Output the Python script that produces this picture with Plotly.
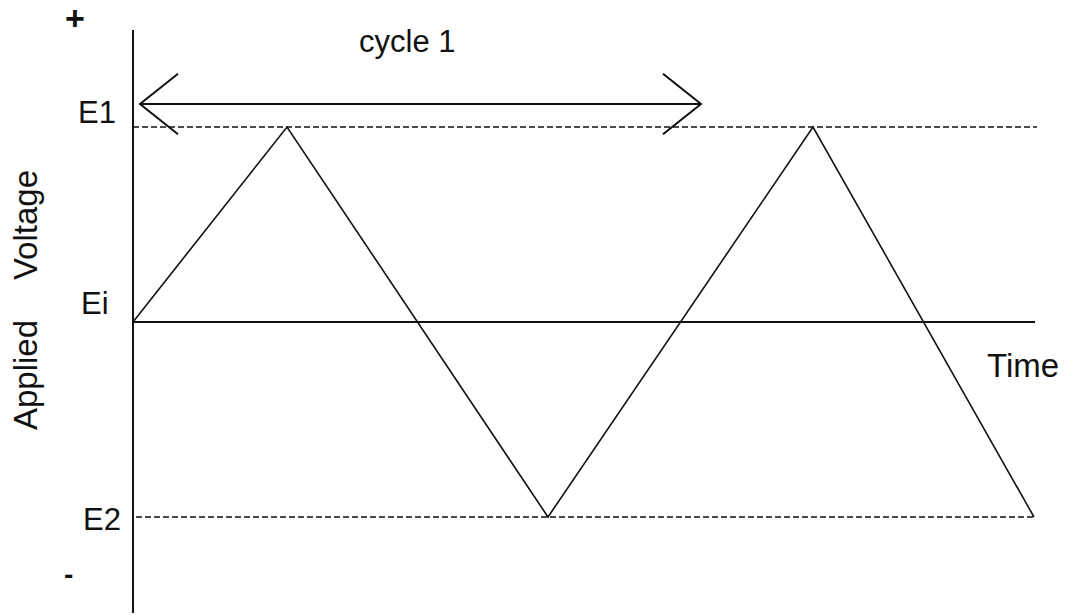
import plotly.graph_objects as go

# Potential levels (arbitrary units): upper vertex, initial, lower vertex
E_1, E_I, E_2 = 1.0, 0.0, -1.0

# Triangular potential sweep: time (arbitrary units) and applied potential
sweep_t = [0.0, 15.4, 41.5, 68.0, 90.1]
sweep_v = [E_I, E_1, E_2, E_1, E_2]

# Extent of the reference lines along the time axis
level_lines_t = {"E1": [0.0, 90.4], "Ei": [0.0, 90.2], "E2": [0.3, 90.1]}

# First cycle span, shown by a double-headed arrow above the sweep
cycle_span = [0.7, 56.8]
cycle_level = 1.118

# Level labels beside the vertical axis
level_labels = ["E1", "Ei", "E2"]
level_label_t = [-3.6, -3.8, -3.1]
level_label_v = [1.072, 0.097, -1.015]

AXIS_TOP, AXIS_BOTTOM = 1.497, -1.492
HEAD_DT, HEAD_DV = 3.8, 0.155
FONT = "Liberation Sans, Arial, Helvetica, sans-serif"
INK = "#111111"

fig = go.Figure()

# Vertical potential axis
fig.add_trace(go.Scatter(x=[0, 0], y=[AXIS_TOP, AXIS_BOTTOM], mode="lines",
                         line=dict(color=INK, width=2), hoverinfo="skip"))

# Initial potential line (also serves as the time axis)
fig.add_trace(go.Scatter(x=level_lines_t["Ei"], y=[E_I, E_I], mode="lines",
                         line=dict(color=INK, width=2), hoverinfo="skip"))

# Switching potential levels, dashed
for key, level in (("E1", E_1), ("E2", E_2)):
    fig.add_trace(go.Scatter(x=level_lines_t[key], y=[level, level], mode="lines",
                             line=dict(color=INK, width=1.5, dash="6px,3px"),
                             hoverinfo="skip"))

# The sweep itself
fig.add_trace(go.Scatter(x=sweep_t, y=sweep_v, mode="lines",
                         line=dict(color=INK, width=1.6), hoverinfo="skip"))

# Cycle arrow: shaft plus open chevron heads at both ends
t0, t1 = cycle_span
fig.add_trace(go.Scatter(x=[t0, t1], y=[cycle_level, cycle_level], mode="lines",
                         line=dict(color=INK, width=1.8), hoverinfo="skip"))
fig.add_trace(go.Scatter(
    x=[t0 + HEAD_DT, t0, t0 + HEAD_DT, None, t1 - HEAD_DT, t1, t1 - HEAD_DT],
    y=[cycle_level + HEAD_DV, cycle_level, cycle_level - HEAD_DV, None,
       cycle_level + HEAD_DV, cycle_level, cycle_level - HEAD_DV],
    mode="lines", line=dict(color=INK, width=2), hoverinfo="skip"))

annotations = []
for text, t, v in zip(level_labels, level_label_t, level_label_v):
    annotations.append(dict(x=t, y=v, text=text, showarrow=False,
                            font=dict(family=FONT, size=31, color=INK)))

annotations += [
    dict(x=-5.8, y=1.559, text="<b>+</b>", showarrow=False,
         font=dict(family=FONT, size=34, color=INK)),
    dict(x=-6.5, y=-1.297, text="<b>-</b>", showarrow=False,
         font=dict(family=FONT, size=28, color=INK)),
    dict(x=27.4, y=1.436, text="cycle 1", showarrow=False,
         font=dict(family=FONT, size=31, color=INK)),
    dict(x=89.0, y=-0.221, text="Time", showarrow=False,
         font=dict(family=FONT, size=33, color=INK)),
    dict(x=-10.8, y=-0.272, text="Applied", textangle=-90, showarrow=False,
         font=dict(family=FONT, size=33, color=INK)),
    dict(x=-10.8, y=0.497, text="Voltage", textangle=-90, showarrow=False,
         font=dict(family=FONT, size=33, color=INK)),
]

fig.update_layout(
    width=1068, height=616,
    margin=dict(l=0, r=0, t=0, b=0),
    paper_bgcolor="white", plot_bgcolor="white",
    showlegend=False,
    xaxis=dict(visible=False, range=[-13.3, 93.5], fixedrange=True),
    yaxis=dict(visible=False, range=[-1.5077, 1.6513], fixedrange=True),
    annotations=annotations,
)

fig.write_html("out.html")
